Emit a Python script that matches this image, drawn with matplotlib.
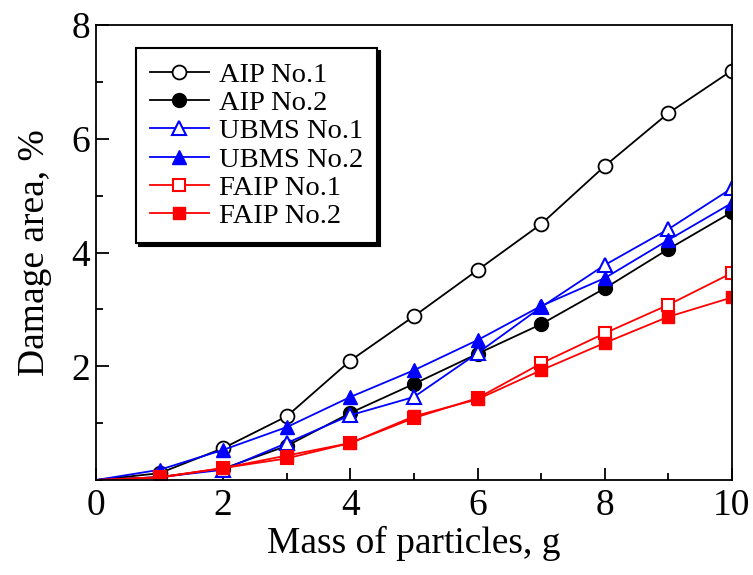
import numpy as np
import matplotlib
matplotlib.use("Agg")
import matplotlib.pyplot as plt
from matplotlib.ticker import MultipleLocator

plt.rcParams['font.family'] = ['Liberation Serif', 'DejaVu Serif']

mass = [0, 1, 2, 3, 4, 5, 6, 7, 8, 9, 10]

aip1 = [0, 0.12, 0.56, 1.12, 2.10, 2.88, 3.69, 4.50, 5.52, 6.45, 7.20]
aip2 = [0, 0.05, 0.20, 0.60, 1.18, 1.69, 2.22, 2.74, 3.37, 4.06, 4.71]
ubms1 = [0, 0.05, 0.18, 0.65, 1.14, 1.46, 2.23, 3.04, 3.78, 4.41, 5.13]
ubms2 = [0, 0.18, 0.53, 0.93, 1.46, 1.93, 2.46, 3.06, 3.55, 4.22, 4.87]
faip1 = [0, 0.05, 0.21, 0.38, 0.65, 1.09, 1.44, 2.05, 2.58, 3.08, 3.64]
faip2 = [0, 0.04, 0.21, 0.43, 0.65, 1.12, 1.42, 1.93, 2.41, 2.87, 3.21]

fig = plt.figure(figsize=(7.53, 5.75), dpi=100)
ax = fig.add_axes([0.1275, 0.1652, 0.8445, 0.7913])

lw = 1.3
ms = 10
pts = range(1, 11)
ax.plot(mass, aip1, '-o', color='black', mfc='white', mec='black', mew=1.3, ms=ms, lw=lw, label='AIP No.1', markevery=pts)
ax.plot(mass, aip2, '-o', color='black', ms=ms, lw=lw, label='AIP No.2', markevery=pts)
ax.plot(mass, ubms1, '-^', color='blue', mfc='white', mec='blue', mew=1.5, ms=ms, lw=lw, label='UBMS No.1', markevery=pts)
ax.plot(mass, ubms2, '-^', color='blue', ms=ms, lw=lw, label='UBMS No.2', markevery=pts)
ax.plot(mass, faip1, '-s', color='red', mfc='white', mec='red', mew=1.5, ms=9, lw=lw, label='FAIP No.1', markevery=pts)
ax.plot(mass, faip2, '-s', color='red', ms=9, lw=lw, label='FAIP No.2', markevery=pts)

ax.set_xlim(0, 10)
ax.set_ylim(0, 8)
ax.xaxis.set_major_locator(MultipleLocator(2))
ax.xaxis.set_minor_locator(MultipleLocator(1))
ax.yaxis.set_minor_locator(MultipleLocator(1))
ax.set_yticks([2, 4, 6, 8])
ax.tick_params(which='both', direction='in', top=False, right=False, width=1.3, labelsize=27)
ax.tick_params(which='major', length=9)
ax.tick_params(which='minor', length=5)
ax.tick_params(axis='x', pad=6)
ax.tick_params(axis='y', pad=4)
for s in ax.spines.values():
    s.set_linewidth(1.3)

ax.set_xlabel('Mass of particles, g', fontsize=27, labelpad=2)
ax.set_ylabel('Damage area, %', fontsize=27, labelpad=14)

leg = ax.legend(loc='upper left', bbox_to_anchor=(0.063, 0.95), fontsize=20.5, frameon=True,
                fancybox=False, edgecolor='black', handlelength=2.05,
                labelspacing=0.08, borderpad=0.5, handletextpad=0.35, borderaxespad=0,
                shadow={'facecolor': 'black', 'edgecolor': 'black', 'alpha': 1})
leg.get_frame().set_linewidth(1.5)

fig.savefig('out.png', dpi=100)
